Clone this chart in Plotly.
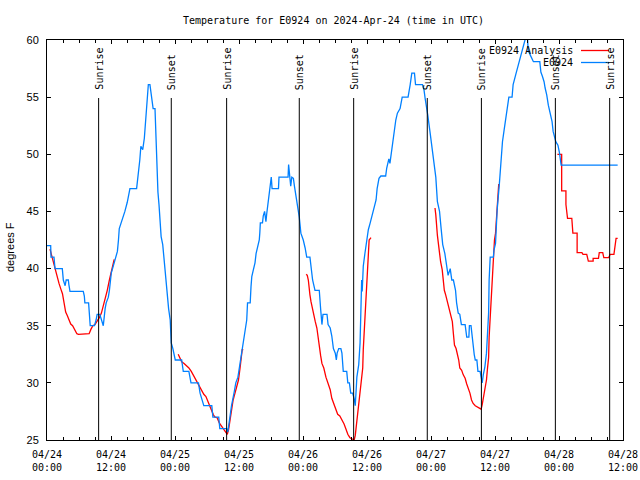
import pandas as pd
import plotly.graph_objects as go

BASE = pd.Timestamp("2024-04-24 00:00")

# Observations (E0924): hours since 2024-04-24 00:00 UTC, temperature in deg F
obs_hours = [0, 0.69, 0.75, 1.31, 1.5, 2.87, 3.06, 3.4, 3.6, 4.0, 4.1, 4.31, 6.8, 7.0, 7.1, 7.8, 8.1, 8.9,
             9.2, 9.4, 9.9, 10.55, 10.9, 11.1, 11.5, 11.7, 12.05, 12.4, 12.8, 13.2, 13.4, 13.55, 13.9, 14.3,
             14.6, 15.05, 15.4, 15.55, 16.8, 17.0, 17.3, 17.4, 17.6, 17.95, 18.25, 18.4, 18.7, 18.8, 19.0,
             19.3, 19.5, 19.7, 19.9, 20.25, 20.4, 20.6, 20.8, 21.0, 21.2, 21.4, 21.7, 21.9, 22.2, 22.4, 22.6,
             22.8, 23.1, 23.2, 23.3, 23.6, 23.95, 24.05, 25.25, 25.55, 26.6, 27.0, 28.4, 28.7, 29.4, 30.9,
             31.1, 32.2, 32.4, 33.7, 33.9, 34.05, 34.3, 34.6, 35.1, 35.4, 35.8, 36.2, 36.6, 36.9, 37.1,
             37.45, 37.6, 38.1, 38.25, 38.4, 38.7, 39.0, 39.2, 39.5, 39.8, 39.9, 40.0, 40.4, 40.55, 40.8,
             41.05, 41.2, 41.4, 41.7, 41.9, 42.05, 42.2, 43.4, 43.5, 45.2, 45.3, 45.4, 45.7, 45.9, 46.2,
             46.4, 46.7, 47.0, 47.3, 47.6, 48.05, 48.4, 48.7, 49.3, 49.5, 49.8, 50.25, 51.05, 51.3, 51.55,
             51.75, 52.5, 52.7, 53.1, 53.4, 53.7, 54.05, 54.25, 54.4, 54.7, 55.1, 55.3, 55.55, 56.2, 56.4,
             56.7, 56.95, 57.3, 57.6, 57.8, 58.1, 58.45, 58.7, 59.0, 59.1, 59.3, 59.6, 59.9, 60.25, 60.6,
             60.9, 61.2, 61.7, 61.9, 62.25, 62.6, 63.5, 63.7, 64.1, 64.3, 64.6, 64.8, 65.1, 65.4, 65.7,
             66.2, 66.6, 67.7, 68.1, 68.4, 68.9, 69.1, 70.4, 70.7, 70.9, 71.2, 71.4, 71.8, 72.2, 72.6,
             72.9, 73.2, 73.6, 73.9, 74.2, 74.6, 74.9, 75.2, 75.6, 75.9, 76.2, 76.6, 76.8, 77.1, 77.4,
             77.7, 78.4, 78.7, 79.1, 79.2, 79.5, 79.8, 80.1, 80.3, 80.6, 80.8, 81.2, 81.4, 81.6, 81.8,
             82.1, 82.4, 82.6, 82.8, 82.9, 83.1, 83.7, 83.8, 84.1, 84.2, 84.4, 84.8, 85.1, 85.4, 85.7,
             86.0, 86.3, 86.6, 87.2, 87.4, 87.9, 88.2, 88.6, 88.9, 89.2, 89.5, 89.8, 90.1, 90.2, 90.6,
             91.2, 92.4, 92.6, 92.9, 93.2, 93.4, 93.7, 94.0, 94.3, 94.7, 94.9, 95.2, 95.4, 95.8, 96.1,
             96.4, 107.0]
obs_temps = [42.0, 42.0, 41.0, 41.0, 40.0, 40.0, 39.0, 38.5, 39.0, 39.0, 38.6, 38.0, 38.0, 37.6, 37.0, 37.0,
             35.0, 35.0, 35.5, 36.0, 36.0, 35.0, 36.5, 37.0, 37.5, 38.1, 39.6, 40.2, 41.0, 41.5, 42.5, 43.5,
             44.0, 44.5, 45.0, 45.8, 46.5, 47.0, 47.0, 47.75, 48.6, 49.5, 50.7, 50.4, 51.4, 52.5, 53.7,
             55.0, 56.1, 56.1, 55.5, 55.0, 54.0, 54.0, 51.5, 48.3, 46.7, 45.6, 44.0, 42.8, 42.1, 41.0,
             40.0, 38.6, 37.5, 36.5, 35.5, 34.5, 33.5, 33.0, 32.4, 32.0, 32.0, 31.0, 31.0, 30.0, 30.0,
             29.1, 28.0, 28.0, 27.0, 27.0, 26.0, 26.0, 25.7, 26.3, 26.75, 28.0, 29.2, 30.0, 30.5, 31.7,
             32.9, 33.9, 34.1, 35.5, 37.0, 37.0, 38.4, 39.3, 39.9, 40.5, 41.3, 41.9, 42.5, 43.1, 44.0,
             44.0, 44.6, 45.0, 44.1, 44.8, 45.7, 46.7, 47.6, 48.0, 47.0, 47.0, 48.0, 48.0, 49.1, 48.4,
             47.2, 48.0, 47.9, 47.2, 46.4, 45.4, 44.5, 43.1, 42.5, 41.8, 41.0, 41.0, 40.2, 39.0, 38.1,
             38.1, 36.5, 35.1, 36.0, 36.0, 35.1, 34.8, 34.1, 33.0, 32.6, 32.0, 32.6, 33.0, 33.0, 32.6,
             31.0, 31.0, 30.0, 30.0, 29.1, 29.1, 28.6, 28.0, 30.5, 31.6, 33.5, 39.0, 38.0, 40.2, 41.3,
             42.5, 43.4, 44.0, 44.5, 45.0, 46.0, 47.0, 47.9, 48.1, 48.1, 48.8, 49.6, 49.2, 50.2, 51.25,
             52.3, 53.0, 53.6, 54.0, 55.0, 55.0, 56.1, 57.1, 57.1, 56.1, 56.1, 55.6, 54.9, 54.2, 53.4,
             52.0, 50.4, 48.8, 48.0, 45.85, 45.0, 43.5, 42.1, 41.3, 40.2, 39.4, 40.0, 39.0, 39.0, 38.1,
             37.0, 36.1, 36.0, 35.1, 35.1, 34.0, 34.0, 35.0, 35.0, 33.5, 32.5, 32.0, 32.0, 31.0, 31.0,
             30.5, 30.0, 30.7, 31.4, 32.6, 34.6, 36.1, 39.0, 41.0, 41.0, 41.6, 42.2, 43.1, 45.1, 47.3,
             49.35, 51.1, 52.1, 53.1, 54.2, 55.0, 55.0, 56.1, 57.0, 57.5, 58.1, 58.6, 59.1, 59.6, 60.3,
             60.3, 59.1, 58.7, 58.1, 58.1, 57.2, 56.8, 56.35, 55.8, 55.2, 54.3, 53.6, 52.85, 52.0, 51.4,
             51.1, 50.8, 50.1, 49.06, 49.06]

# Analysis (E0924 Analysis): hours since 2024-04-24 00:00 UTC (None = gap), temperature in deg F
ana_hours = [0.56, 0.94, 1.31, 1.6, 2.25, 2.6, 2.9, 3.2, 3.5, 3.8, 4.1, 4.45, 4.8, 5.2, 5.6, 5.9, 7.9, 8.25,
             8.6, 9.0, 9.4, 9.8, 10.2, 10.55, 10.9, 11.3, 11.7, 12.05, 12.4, 12.6, None,
             24.6, 25.25, 25.7, 26.2, 26.6, 27.05, 27.4, 27.8, 28.2, 28.55, 29.0, 29.4, 29.8, 30.2, 30.6,
             30.9, 31.2, 31.5, 31.9, 32.3, 32.75, 33.2, 33.6, 33.8, 34.05, 34.3, 34.6, 34.9, 35.25, 35.6,
             35.9, 36.2, 36.4, 36.6, 36.8, None,
             48.6, 48.8, 49.0, 49.1, 49.3, 49.5, 49.75, 50.1, 50.3, 50.6, 50.8, 51.05, 51.3, 51.55, 51.9,
             52.3, 52.7, 53.1, 53.4, 53.8, 54.2, 54.5, 54.9, 55.3, 55.7, 56.1, 56.4, 56.8, 57.2, 57.6,
             57.8, 58.1, 58.4, 58.7, 59.0, 59.2, 59.3, 59.5, 59.7, 59.9, 60.1, 60.3, 60.4, 60.75, None,
             72.75, 72.9, 73.2, 73.4, 73.6, 73.8, 74.1, 74.3, 74.5, 74.75, 74.9, 75.2, 75.4, 75.7, 76.0,
             76.2, 76.4, 76.7, 76.9, 77.2, 77.4, 77.75, 78.05, 78.4, 78.7, 79.0, 79.3, 79.6, 79.9, 80.3,
             80.7, 81.2, 81.4, 81.6, 81.8, 82.1, 82.4, 82.6, 82.8, 82.9, 83.1, 83.25, 83.4, 83.7, 83.9,
             84.1, 84.4, 84.7, None,
             95.7, 96.5, 96.5, 97.3, 97.3, 97.6, 98.4, 98.6, 99.4, 99.4, 100.3, 100.5, 101.2, 101.5,
             102.4, 102.4, 103.4, 103.55, 104.2, 104.4, 105.3, 105.6, 106.3, 106.5, 106.7, 107.0]
ana_temps = [41.7, 41.0, 40.45, 39.7, 38.7, 38.2, 37.8, 37.0, 36.2, 35.9, 35.55, 35.15, 35.0, 34.6, 34.3,
             34.25, 34.3, 34.7, 35.0, 35.1, 35.35, 35.7, 36.1, 36.7, 37.4, 38.1, 39.0, 39.7, 40.5, 40.8, None,
             32.5, 31.85, 31.7, 31.5, 31.3, 31.0, 30.7, 30.4, 30.1, 29.7, 29.4, 29.0, 28.8, 28.35, 27.9,
             27.5, 27.2, 27.0, 26.95, 26.5, 26.2, 26.0, 25.7, 25.5, 25.9, 26.75, 27.6, 28.5, 29.1, 29.7,
             30.25, 31.3, 32.0, 32.9, 32.9, None,
             39.5, 39.4, 39.0, 38.4, 37.7, 37.1, 36.5, 35.9, 35.35, 34.8, 34.0, 33.2, 32.4, 31.7, 31.3,
             30.5, 30.0, 29.4, 28.65, 28.2, 27.6, 27.25, 27.1, 26.75, 26.4, 25.9, 25.5, 25.2, 25.1, 25.0,
             25.4, 26.6, 27.6, 28.8, 30.25, 31.3, 32.9, 34.8, 35.8, 38.1, 40.2, 41.3, 42.5, 42.7, None,
             45.3, 44.7, 42.9, 42.1, 41.25, 40.6, 39.9, 39.0, 38.1, 37.7, 37.4, 36.8, 36.4, 35.8, 35.35,
             34.3, 33.3, 33.0, 32.6, 32.0, 31.3, 31.1, 30.7, 30.4, 29.9, 29.5, 29.1, 28.5, 28.2, 28.0,
             27.9, 27.8, 27.7, 28.1, 28.65, 29.4, 30.25, 31.3, 32.2, 34.0, 35.8, 37.5, 38.7, 41.3, 42.5,
             43.1, 45.0, 47.4, None,
             50.0, 50.0, 46.8, 46.8, 45.6, 44.4, 44.4, 43.1, 43.1, 41.4, 41.4, 41.25, 41.25, 40.65,
             40.65, 40.9, 40.9, 41.4, 41.4, 40.95, 40.95, 41.25, 41.25, 41.9, 42.65, 42.65]

# Sun events
sun_times = ["2024-04-24 09:41", "2024-04-24 23:18", "2024-04-25 09:41", "2024-04-25 23:18",
             "2024-04-26 09:30", "2024-04-26 23:18", "2024-04-27 09:27", "2024-04-27 23:19",
             "2024-04-28 09:30"]
sun_labels = ["Sunrise", "Sunset", "Sunrise", "Sunset", "Sunrise", "Sunset", "Sunrise", "Sunset", "Sunrise"]

# Axis ticks
tick_hours = [0, 12, 24, 36, 48, 60, 72, 84, 96, 108]
y_range = [25, 60]

MONO = "DejaVu Sans Mono"
SANS = "Liberation Sans"
RED = "#ff0000"
BLUE = "#0080ff"


def to_time(hours):
    return [None if h is None else BASE + pd.Timedelta(hours=h) for h in hours]


fig = go.Figure()
fig.add_trace(go.Scatter(x=to_time(ana_hours), y=ana_temps, mode="lines", name="E0924 Analysis",
                         line=dict(color=RED, width=1.3), connectgaps=False, showlegend=False))
fig.add_trace(go.Scatter(x=to_time(obs_hours), y=obs_temps, mode="lines", name="E0924",
                         line=dict(color=BLUE, width=1.3), showlegend=False))

L, R, T, B = 47, 17, 40, 40
W, H = 640, 480
pw, ph = W - L - R, H - T - B


def px_x(px):
    return (px - L) / pw


def px_y(py):
    return (H - B - py) / ph


# sunrise / sunset lines and labels
for t, lab in zip(sun_times, sun_labels):
    fig.add_shape(type="line", xref="x", yref="paper", x0=t, x1=t, y0=0, y1=px_y(98),
                  line=dict(color="black", width=1))
    fig.add_annotation(x=t, xref="x", y=px_y(92), yref="paper", text=lab, textangle=-90,
                       showarrow=False, xanchor="center", yanchor="bottom",
                       font=dict(family=MONO, size=10, color="black"))

# legend (gnuplot style: text then sample)
legend_items = [("E0924 Analysis", RED, 50.5), ("E0924", BLUE, 62.5)]
for text, col, py in legend_items:
    fig.add_annotation(x=px_x(575), xref="paper", y=px_y(py), yref="paper", text=text,
                       showarrow=False, xanchor="right", yanchor="middle",
                       font=dict(family=MONO, size=10, color="black"))
    fig.add_shape(type="line", xref="paper", yref="paper", x0=px_x(581), x1=px_x(609),
                  y0=px_y(py), y1=px_y(py), line=dict(color=col, width=1.3))

# y axis title
fig.add_annotation(x=px_x(10), xref="paper", y=px_y(247), yref="paper", text="degrees F",
                   textangle=-90, showarrow=False, xanchor="center", yanchor="middle",
                   font=dict(family=SANS, size=11, color="black"))

tick_vals = [BASE + pd.Timedelta(hours=h) for h in tick_hours]
tick_text = [f"{v:%m/%d}<br>{v:%H:%M}" for v in tick_vals]

fig.update_layout(
    width=W, height=H, autosize=False,
    margin=dict(l=L, r=R, t=T, b=B, pad=0, autoexpand=False),
    paper_bgcolor="white", plot_bgcolor="white",
    title=dict(text="Temperature for E0924 on 2024-Apr-24 (time in UTC)", x=333.5 / W, xanchor="center",
               y=1 - 20 / H, yanchor="middle", font=dict(family=MONO, size=10, color="black")),
    xaxis=dict(type="date", range=[tick_vals[0], tick_vals[-1]], tickmode="array", tickvals=tick_vals,
               ticktext=tick_text, ticks="inside", ticklen=4, tickcolor="black", showline=True,
               linecolor="black", linewidth=1, mirror="ticks", showgrid=False, zeroline=False,
               automargin=False,
               tickfont=dict(family=MONO, size=10, color="black"), ticklabelstandoff=5,
               minor=dict(dtick=3 * 3600 * 1000, ticks="inside", ticklen=3, tickcolor="black",
                          showgrid=False)),
    yaxis=dict(range=y_range, dtick=5, tick0=25, ticks="inside", ticklen=4, tickcolor="black",
               showline=True, linecolor="black", linewidth=1, mirror="ticks", showgrid=False,
               zeroline=False, automargin=False, tickfont=dict(family=SANS, size=11, color="black"),
               ticklabelstandoff=5),
)

fig.write_html("out.html")
